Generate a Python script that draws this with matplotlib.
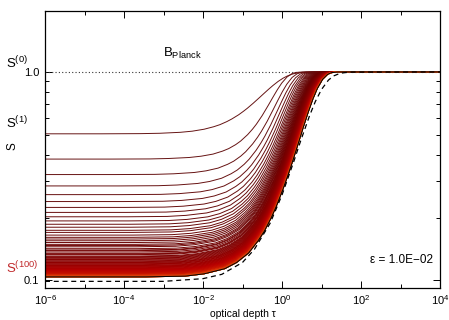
import numpy as np
import matplotlib
matplotlib.use("Agg")
import matplotlib.pyplot as plt
from matplotlib.colors import LinearSegmentedColormap
from matplotlib.ticker import FixedLocator, FixedFormatter, NullFormatter

# Lambda iteration, eps = 1e-2, B = 1: surface value S^(n)(0) of every iterate n = 1..100
s_surface = [
    0.505, 0.382, 0.322, 0.284, 0.258, 0.239, 0.224, 0.212, 0.202, 0.193,
    0.186, 0.180, 0.174, 0.170, 0.165, 0.161, 0.158, 0.155, 0.152, 0.149,
    0.147, 0.145, 0.142, 0.140, 0.139, 0.137, 0.135, 0.134, 0.133, 0.131,
    0.130, 0.129, 0.128, 0.127, 0.126, 0.125, 0.124, 0.123, 0.122, 0.122,
    0.121, 0.120, 0.120, 0.119, 0.118, 0.118, 0.117, 0.117, 0.116, 0.116,
    0.115, 0.115, 0.114, 0.114, 0.113, 0.113, 0.113, 0.112, 0.112, 0.112,
    0.111, 0.111, 0.111, 0.110, 0.110, 0.110, 0.109, 0.109, 0.109, 0.109,
    0.108, 0.108, 0.108, 0.108, 0.108, 0.107, 0.107, 0.107, 0.107, 0.107,
    0.106, 0.106, 0.106, 0.106, 0.106, 0.106, 0.106, 0.105, 0.105, 0.105,
    0.105, 0.105, 0.105, 0.105, 0.104, 0.104, 0.104, 0.104, 0.104, 0.104,
]

# depth where each iterate is half way between its surface value and B
tau_half = [
    0.267, 0.448, 0.601, 0.735, 0.855, 0.964, 1.06, 1.16, 1.24, 1.32,
    1.40, 1.47, 1.54, 1.61, 1.67, 1.73, 1.79, 1.84, 1.89, 1.94,
    1.99, 2.04, 2.09, 2.13, 2.17, 2.21, 2.25, 2.29, 2.33, 2.37,
    2.40, 2.43, 2.47, 2.50, 2.53, 2.56, 2.59, 2.62, 2.65, 2.68,
    2.70, 2.73, 2.76, 2.78, 2.81, 2.83, 2.85, 2.87, 2.90, 2.92,
    2.94, 2.96, 2.98, 3.00, 3.02, 3.04, 3.06, 3.07, 3.09, 3.11,
    3.12, 3.14, 3.16, 3.17, 3.19, 3.20, 3.22, 3.23, 3.25, 3.26,
    3.27, 3.29, 3.30, 3.31, 3.32, 3.34, 3.35, 3.36, 3.37, 3.38,
    3.39, 3.40, 3.41, 3.42, 3.43, 3.44, 3.45, 3.46, 3.47, 3.48,
    3.49, 3.50, 3.51, 3.52, 3.52, 3.53, 3.54, 3.55, 3.55, 3.56,
]

# rise profile (per mille of the way from surface value to B) vs tau / tau_half
ratio = [1e-7, 1e-4, 1e-3, 3e-3, 0.01, 0.02, 0.04, 0.07, 0.1, 0.15, 0.2, 0.3, 0.4, 0.5,
         0.7, 1, 1.3, 1.7, 2.2, 3, 4, 5, 7, 10, 15, 25, 1e5]
rise_first = [0, 0, 2, 6, 17, 30, 53, 83, 108, 147, 181, 239, 290, 334,
              410, 500, 571, 646, 718, 800, 866, 908, 955, 984, 997, 1000, 1000]
rise_later = [0, 0, 1, 4, 11, 20, 35, 57, 76, 107, 136, 191, 242, 290,
              380, 500, 601, 711, 813, 913, 970, 991, 999, 1000, 1000, 1000, 1000]

# converged solution (dashed)
tau_exact = [1e-6, 1e-3, 1e-2, 3e-2, 0.1, 0.2, 0.5, 1, 2, 3, 5, 7, 10, 15, 20, 30, 50, 1e4]
s_exact = [0.099, 0.099, 0.102, 0.107, 0.122, 0.141, 0.188, 0.257, 0.373, 0.470,
           0.618, 0.722, 0.824, 0.914, 0.956, 0.986, 0.998, 1.000]

x_major = [1e-6, 1e-4, 1e-2, 1e0, 1e2, 1e4]
x_major_labels = ["10$^{-6}$", "10$^{-4}$", "10$^{-2}$", "10$^{0}$", "10$^{2}$", "10$^{4}$"]
x_minor = [1e-5, 1e-3, 1e-1, 1e1, 1e3]
y_major = [0.1, 1.0]
y_major_labels = ["0.1", "1.0"]
y_minor = [0.2, 0.3, 0.4, 0.5, 0.6, 0.7, 0.8, 0.9]

plt.rcParams["font.family"] = ["Liberation Sans", "DejaVu Sans"]
plt.rcParams["mathtext.fontset"] = "custom"
plt.rcParams["mathtext.rm"] = "Liberation Sans"
plt.rcParams["mathtext.it"] = "Liberation Sans:italic"
plt.rcParams["mathtext.default"] = "regular"

fig = plt.figure(figsize=(4.49, 3.2), dpi=100)
ax = fig.add_axes([45 / 449, 32 / 320, 395 / 449, 277 / 320])

# Planck function, S^(0)
ax.plot([1e-6, 1e4], [1.0, 1.0], color="#333333", lw=0.8, ls=(0, (1, 2)))

cmap = LinearSegmentedColormap.from_list(
    "iter", ["#661414", "#6a0000", "#900000", "#b80000", "#cc1a00", "#e05010"])
ratio_arr = np.array(ratio)
n_iter = len(s_surface)
for n in range(n_iter):
    prof = np.array(rise_first if n == 0 else rise_later) / 1000.0
    s0 = s_surface[n]
    color = "black" if n == n_iter - 1 else cmap(n / (n_iter - 1))
    ax.plot(ratio_arr * tau_half[n], s0 + (1 - s0) * prof, color=color, lw=0.7)

ax.plot(tau_exact, s_exact, color="black", lw=0.9, ls=(0, (4, 3)))

ax.set_xscale("log")
ax.set_yscale("log")
ax.set_xlim(1e-6, 1e4)
ax.set_ylim(0.092, 1.96)

ax.xaxis.set_major_locator(FixedLocator(x_major))
ax.xaxis.set_major_formatter(FixedFormatter(x_major_labels))
ax.xaxis.set_minor_locator(FixedLocator(x_minor))
ax.xaxis.set_minor_formatter(NullFormatter())
ax.yaxis.set_major_locator(FixedLocator(y_major))
ax.yaxis.set_major_formatter(FixedFormatter(y_major_labels))
ax.yaxis.set_minor_locator(FixedLocator(y_minor))
ax.yaxis.set_minor_formatter(NullFormatter())
ax.tick_params(which="both", direction="in", top=True, right=True, width=0.7,
               labelsize=8, pad=4)
ax.tick_params(which="major", length=5)
ax.tick_params(which="minor", length=3)
for sp in ax.spines.values():
    sp.set_linewidth(0.9)

ax.set_xlabel("optical depth τ", fontsize=7.5, labelpad=1)

fig.text(13 / 449, 1 - 146 / 320, "S", rotation=90, fontsize=8.5, ha="center", va="center")
fig.text(6 / 449, 1 - 68 / 320, "S$^{(0)}$", fontsize=9.5, ha="left", va="baseline")
fig.text(6 / 449, 1 - 128 / 320, "S$^{(1)}$", fontsize=9.5, ha="left", va="baseline")
fig.text(6 / 449, 1 - 273 / 320, "S$^{(100)}$", fontsize=9.5, ha="left", va="baseline",
         color="#c0282a")
fig.text(163 / 449, 1 - 57 / 320, "B$_{Planck}$", fontsize=9.5, ha="left", va="baseline")
fig.text(433 / 449, 1 - 263 / 320, "ε = 1.0E−02", fontsize=8.5, ha="right", va="baseline")

fig.savefig("out.png", dpi=100)
